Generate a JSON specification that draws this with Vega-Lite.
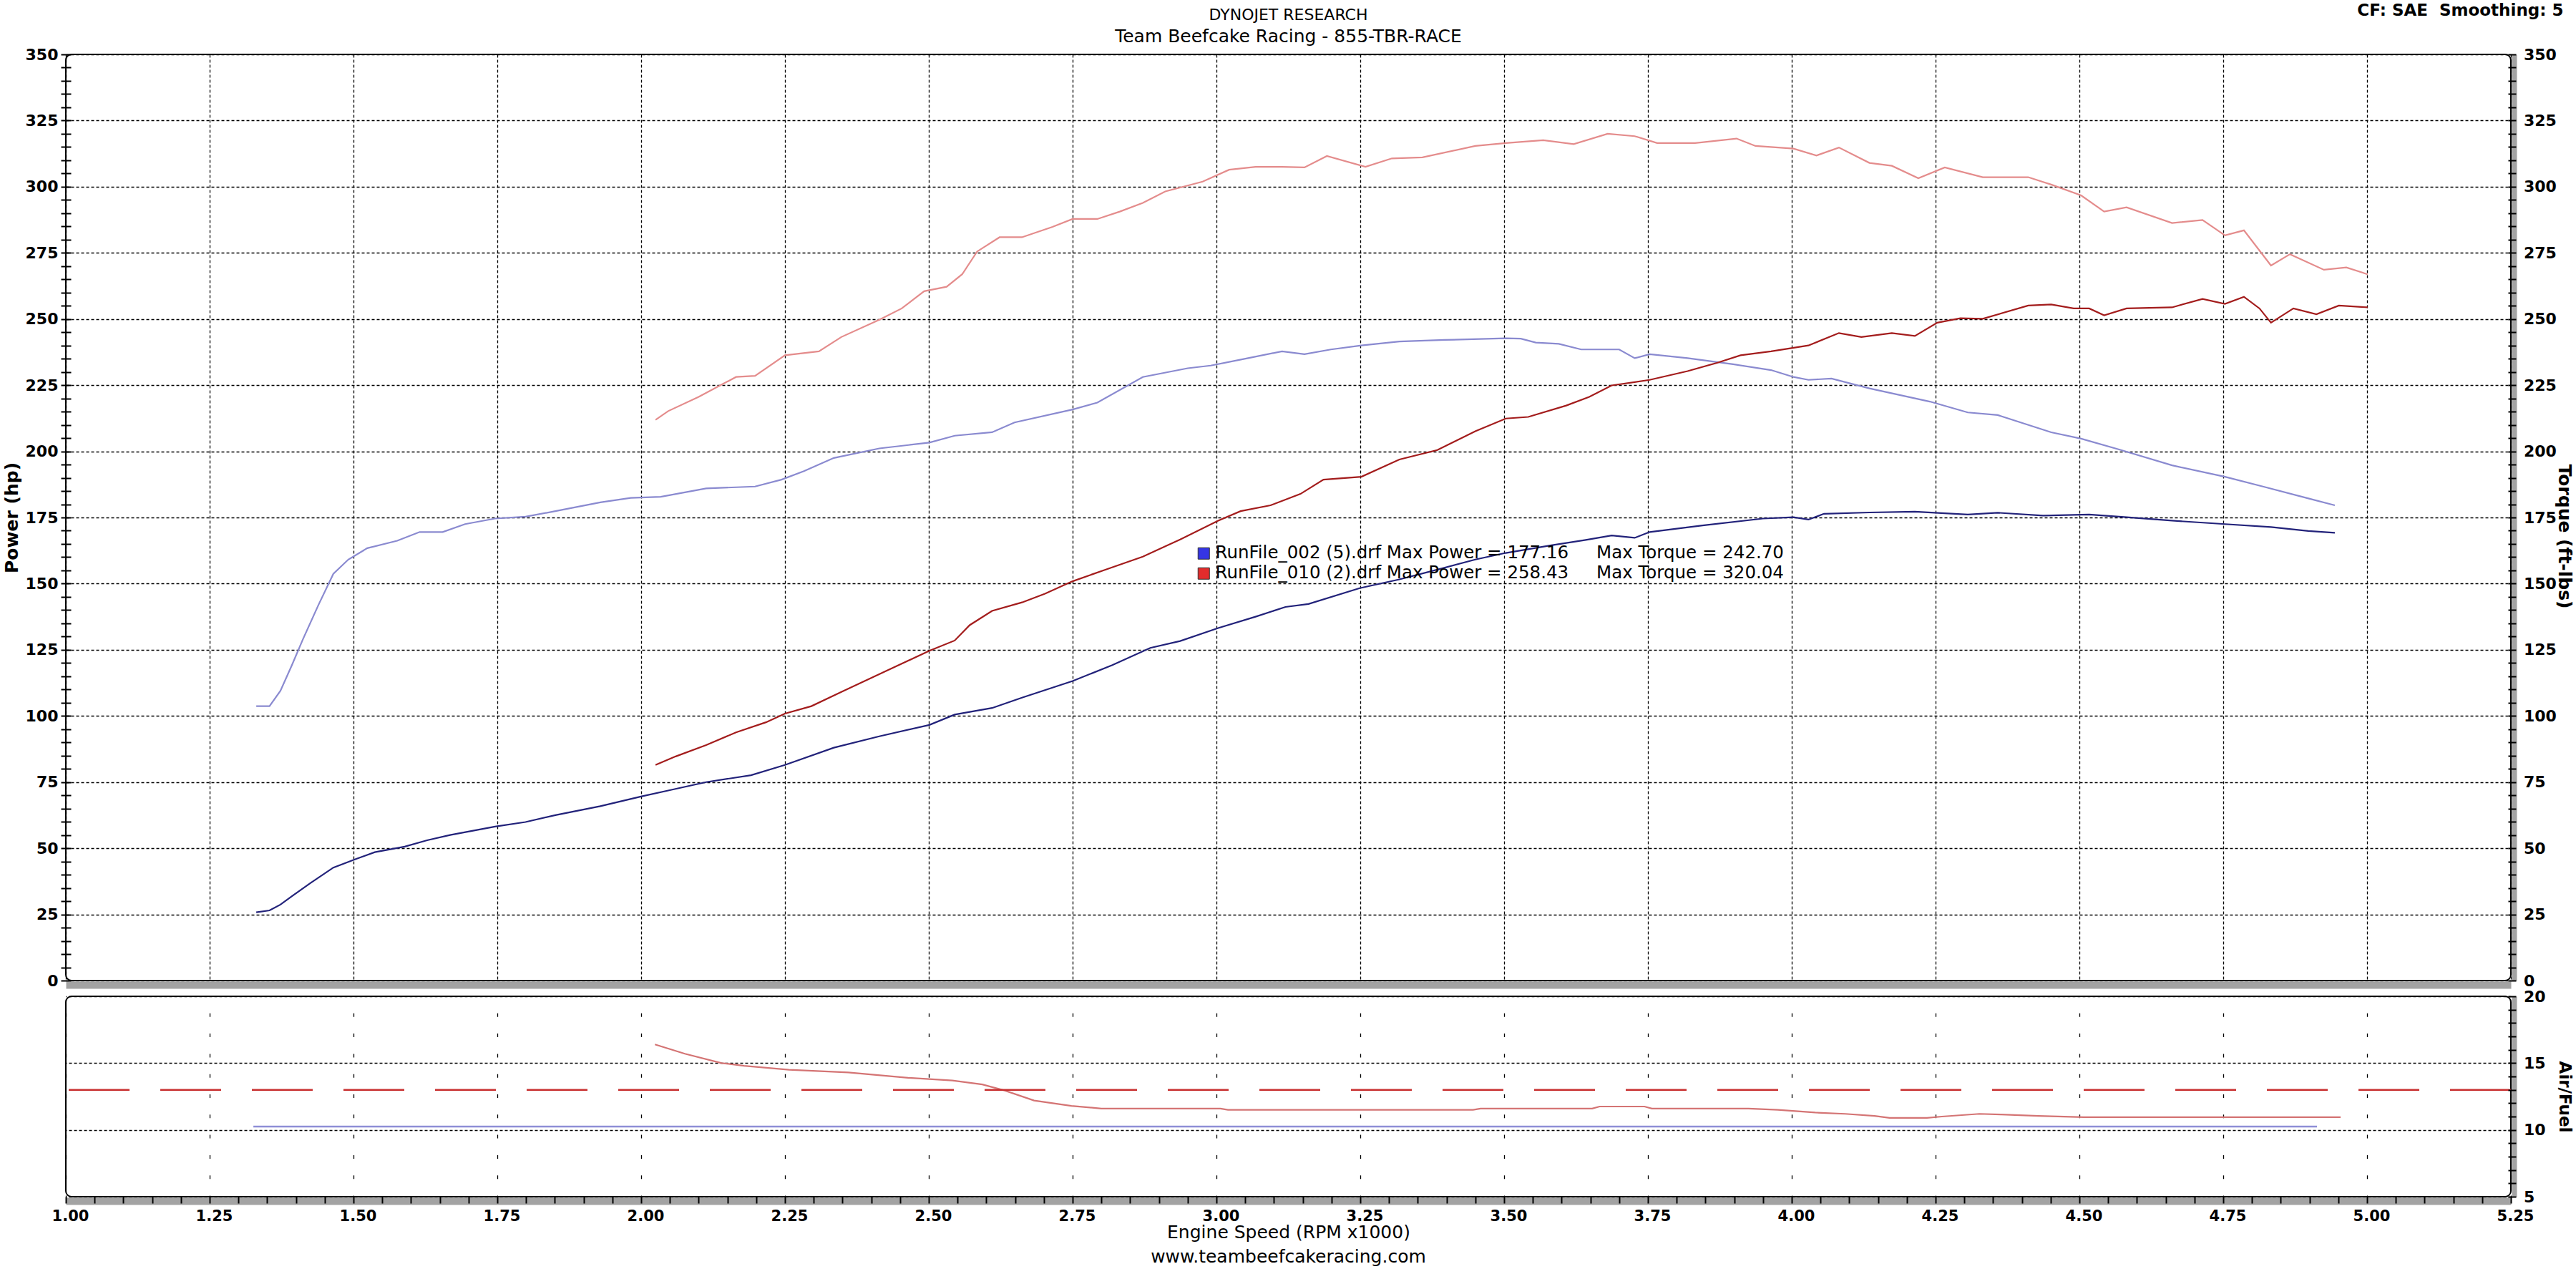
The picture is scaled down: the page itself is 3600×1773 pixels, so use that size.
{
  "$schema": "https://vega.github.io/schema/vega-lite/v6.json",
  "background": "white",
  "padding": {"left": 3, "top": 4, "right": 4, "bottom": 4},
  "title": {"text": "CF: SAE\u00a0 Smoothing: 5", "anchor": "end", "frame": "bounds", "font": "DejaVu Sans", "fontSize": 23, "fontWeight": "bold", "color": "black", "offset": 0, "dy": 18, "dx": -14},
  "bounds": "flush",
  "spacing": 22,
  "resolve": {"scale": {"color": "independent"}, "legend": {"color": "independent"}},
  "config": {
    "view": {"stroke": "black", "strokeWidth": 2, "cornerRadius": 8},
    "axis": {"labelFont": "DejaVu Sans", "labelFontWeight": "bold", "labelFontSize": 22, "labelColor": "black", "labelFlush": false, "titleFont": "DejaVu Sans", "titleColor": "black", "titleFontWeight": "bold", "titleFontSize": 25, "gridColor": "black", "gridOpacity": 1, "gridWidth": 1.3, "gridDash": [4, 3], "tickColor": "black", "tickWidth": 2, "domain": false, "ticks": false, "tickSize": 0},
    "line": {"strokeWidth": 2.2}
  },
  "datasets": {
    "dyno": [
      {"run":"002","m":"P","rpm":1.331,"v":25.8},{"run":"002","m":"P","rpm":1.354,"v":26.5},{"run":"002","m":"P","rpm":1.373,"v":28.7},{"run":"002","m":"P","rpm":1.393,"v":31.9},{"run":"002","m":"P","rpm":1.425,"v":36.8},{"run":"002","m":"P","rpm":1.465,"v":42.7},{"run":"002","m":"P","rpm":1.504,"v":45.9},{"run":"002","m":"P","rpm":1.537,"v":48.5},{"run":"002","m":"P","rpm":1.589,"v":50.6},{"run":"002","m":"P","rpm":1.628,"v":53.0},{"run":"002","m":"P","rpm":1.668,"v":55.0},{"run":"002","m":"P","rpm":1.746,"v":58.2},{"run":"002","m":"P","rpm":1.799,"v":59.9},{"run":"002","m":"P","rpm":1.851,"v":62.5},{"run":"002","m":"P","rpm":1.929,"v":65.9},{"run":"002","m":"P","rpm":2.001,"v":69.6},{"run":"002","m":"P","rpm":2.047,"v":71.8},{"run":"002","m":"P","rpm":2.113,"v":75.0},{"run":"002","m":"P","rpm":2.191,"v":77.6},{"run":"002","m":"P","rpm":2.250,"v":81.5},{"run":"002","m":"P","rpm":2.335,"v":88.0},{"run":"002","m":"P","rpm":2.414,"v":92.3},{"run":"002","m":"P","rpm":2.501,"v":96.6},{"run":"002","m":"P","rpm":2.545,"v":100.5},{"run":"002","m":"P","rpm":2.610,"v":103.0},{"run":"002","m":"P","rpm":2.662,"v":106.9},{"run":"002","m":"P","rpm":2.750,"v":113.2},{"run":"002","m":"P","rpm":2.819,"v":119.2},{"run":"002","m":"P","rpm":2.885,"v":125.7},{"run":"002","m":"P","rpm":2.937,"v":128.3},{"run":"002","m":"P","rpm":3.003,"v":133.2},{"run":"002","m":"P","rpm":3.068,"v":137.5},{"run":"002","m":"P","rpm":3.120,"v":141.2},{"run":"002","m":"P","rpm":3.160,"v":142.3},{"run":"002","m":"P","rpm":3.249,"v":148.3},{"run":"002","m":"P","rpm":3.318,"v":151.6},{"run":"002","m":"P","rpm":3.384,"v":155.3},{"run":"002","m":"P","rpm":3.450,"v":159.1},{"run":"002","m":"P","rpm":3.503,"v":161.6},{"run":"002","m":"P","rpm":3.582,"v":164.5},{"run":"002","m":"P","rpm":3.642,"v":166.5},{"run":"002","m":"P","rpm":3.687,"v":168.2},{"run":"002","m":"P","rpm":3.727,"v":167.3},{"run":"002","m":"P","rpm":3.753,"v":169.5},{"run":"002","m":"P","rpm":3.845,"v":172.0},{"run":"002","m":"P","rpm":3.950,"v":174.6},{"run":"002","m":"P","rpm":4.003,"v":175.1},{"run":"002","m":"P","rpm":4.029,"v":174.2},{"run":"002","m":"P","rpm":4.056,"v":176.4},{"run":"002","m":"P","rpm":4.135,"v":176.9},{"run":"002","m":"P","rpm":4.214,"v":177.2},{"run":"002","m":"P","rpm":4.306,"v":176.1},{"run":"002","m":"P","rpm":4.358,"v":176.8},{"run":"002","m":"P","rpm":4.437,"v":175.7},{"run":"002","m":"P","rpm":4.517,"v":176.1},{"run":"002","m":"P","rpm":4.582,"v":175.1},{"run":"002","m":"P","rpm":4.661,"v":173.8},{"run":"002","m":"P","rpm":4.753,"v":172.5},{"run":"002","m":"P","rpm":4.833,"v":171.4},{"run":"002","m":"P","rpm":4.898,"v":169.9},{"run":"002","m":"P","rpm":4.944,"v":169.2},

      {"run":"002","m":"T","rpm":1.331,"v":103.7},{"run":"002","m":"T","rpm":1.354,"v":103.7},{"run":"002","m":"T","rpm":1.373,"v":109.5},{"run":"002","m":"T","rpm":1.393,"v":119.2},{"run":"002","m":"T","rpm":1.412,"v":128.9},{"run":"002","m":"T","rpm":1.439,"v":141.9},{"run":"002","m":"T","rpm":1.465,"v":153.7},{"run":"002","m":"T","rpm":1.491,"v":159.1},{"run":"002","m":"T","rpm":1.524,"v":163.4},{"run":"002","m":"T","rpm":1.576,"v":166.2},{"run":"002","m":"T","rpm":1.615,"v":169.5},{"run":"002","m":"T","rpm":1.655,"v":169.5},{"run":"002","m":"T","rpm":1.694,"v":172.5},{"run":"002","m":"T","rpm":1.746,"v":174.6},{"run":"002","m":"T","rpm":1.799,"v":175.3},{"run":"002","m":"T","rpm":1.851,"v":177.4},{"run":"002","m":"T","rpm":1.929,"v":180.7},{"run":"002","m":"T","rpm":1.982,"v":182.4},{"run":"002","m":"T","rpm":2.034,"v":182.8},{"run":"002","m":"T","rpm":2.113,"v":186.0},{"run":"002","m":"T","rpm":2.198,"v":186.7},{"run":"002","m":"T","rpm":2.244,"v":189.3},{"run":"002","m":"T","rpm":2.283,"v":192.5},{"run":"002","m":"T","rpm":2.335,"v":197.5},{"run":"002","m":"T","rpm":2.414,"v":201.1},{"run":"002","m":"T","rpm":2.501,"v":203.3},{"run":"002","m":"T","rpm":2.545,"v":205.9},{"run":"002","m":"T","rpm":2.610,"v":207.2},{"run":"002","m":"T","rpm":2.649,"v":210.9},{"run":"002","m":"T","rpm":2.750,"v":215.8},{"run":"002","m":"T","rpm":2.793,"v":218.4},{"run":"002","m":"T","rpm":2.872,"v":228.1},{"run":"002","m":"T","rpm":2.950,"v":231.4},{"run":"002","m":"T","rpm":2.990,"v":232.4},{"run":"002","m":"T","rpm":3.055,"v":235.2},{"run":"002","m":"T","rpm":3.114,"v":237.8},{"run":"002","m":"T","rpm":3.153,"v":236.7},{"run":"002","m":"T","rpm":3.199,"v":238.5},{"run":"002","m":"T","rpm":3.252,"v":240.0},{"run":"002","m":"T","rpm":3.318,"v":241.5},{"run":"002","m":"T","rpm":3.397,"v":242.1},{"run":"002","m":"T","rpm":3.503,"v":242.7},{"run":"002","m":"T","rpm":3.529,"v":242.6},{"run":"002","m":"T","rpm":3.555,"v":241.1},{"run":"002","m":"T","rpm":3.595,"v":240.6},{"run":"002","m":"T","rpm":3.634,"v":238.5},{"run":"002","m":"T","rpm":3.700,"v":238.5},{"run":"002","m":"T","rpm":3.727,"v":235.2},{"run":"002","m":"T","rpm":3.753,"v":236.7},{"run":"002","m":"T","rpm":3.819,"v":235.2},{"run":"002","m":"T","rpm":3.898,"v":232.9},{"run":"002","m":"T","rpm":3.964,"v":230.7},{"run":"002","m":"T","rpm":4.003,"v":228.1},{"run":"002","m":"T","rpm":4.029,"v":227.0},{"run":"002","m":"T","rpm":4.069,"v":227.5},{"run":"002","m":"T","rpm":4.135,"v":223.8},{"run":"002","m":"T","rpm":4.240,"v":218.8},{"run":"002","m":"T","rpm":4.306,"v":214.7},{"run":"002","m":"T","rpm":4.358,"v":213.7},{"run":"002","m":"T","rpm":4.451,"v":207.2},{"run":"002","m":"T","rpm":4.503,"v":204.8},{"run":"002","m":"T","rpm":4.569,"v":200.7},{"run":"002","m":"T","rpm":4.661,"v":194.7},{"run":"002","m":"T","rpm":4.753,"v":190.4},{"run":"002","m":"T","rpm":4.819,"v":186.7},{"run":"002","m":"T","rpm":4.898,"v":182.2},{"run":"002","m":"T","rpm":4.944,"v":179.6},

      {"run":"010","m":"P","rpm":2.025,"v":81.5},{"run":"010","m":"P","rpm":2.060,"v":84.7},{"run":"010","m":"P","rpm":2.113,"v":89.0},{"run":"010","m":"P","rpm":2.165,"v":93.8},{"run":"010","m":"P","rpm":2.217,"v":97.6},{"run":"010","m":"P","rpm":2.250,"v":100.9},{"run":"010","m":"P","rpm":2.296,"v":103.7},{"run":"010","m":"P","rpm":2.348,"v":109.1},{"run":"010","m":"P","rpm":2.427,"v":117.1},{"run":"010","m":"P","rpm":2.501,"v":124.6},{"run":"010","m":"P","rpm":2.545,"v":128.5},{"run":"010","m":"P","rpm":2.571,"v":134.3},{"run":"010","m":"P","rpm":2.610,"v":139.7},{"run":"010","m":"P","rpm":2.662,"v":142.9},{"run":"010","m":"P","rpm":2.702,"v":146.2},{"run":"010","m":"P","rpm":2.750,"v":150.9},{"run":"010","m":"P","rpm":2.806,"v":155.2},{"run":"010","m":"P","rpm":2.872,"v":160.2},{"run":"010","m":"P","rpm":2.937,"v":166.7},{"run":"010","m":"P","rpm":3.003,"v":173.8},{"run":"010","m":"P","rpm":3.042,"v":177.4},{"run":"010","m":"P","rpm":3.094,"v":179.6},{"run":"010","m":"P","rpm":3.146,"v":183.9},{"run":"010","m":"P","rpm":3.186,"v":189.3},{"run":"010","m":"P","rpm":3.252,"v":190.4},{"run":"010","m":"P","rpm":3.318,"v":196.9},{"run":"010","m":"P","rpm":3.384,"v":200.5},{"run":"010","m":"P","rpm":3.450,"v":207.6},{"run":"010","m":"P","rpm":3.503,"v":212.4},{"run":"010","m":"P","rpm":3.542,"v":213.0},{"run":"010","m":"P","rpm":3.608,"v":217.3},{"run":"010","m":"P","rpm":3.648,"v":220.6},{"run":"010","m":"P","rpm":3.687,"v":224.9},{"run":"010","m":"P","rpm":3.753,"v":227.0},{"run":"010","m":"P","rpm":3.819,"v":230.3},{"run":"010","m":"P","rpm":3.871,"v":233.5},{"run":"010","m":"P","rpm":3.911,"v":236.3},{"run":"010","m":"P","rpm":3.964,"v":237.8},{"run":"010","m":"P","rpm":4.029,"v":240.0},{"run":"010","m":"P","rpm":4.082,"v":244.7},{"run":"010","m":"P","rpm":4.121,"v":243.2},{"run":"010","m":"P","rpm":4.174,"v":244.7},{"run":"010","m":"P","rpm":4.214,"v":243.6},{"run":"010","m":"P","rpm":4.253,"v":248.6},{"run":"010","m":"P","rpm":4.293,"v":250.3},{"run":"010","m":"P","rpm":4.332,"v":250.1},{"run":"010","m":"P","rpm":4.411,"v":255.1},{"run":"010","m":"P","rpm":4.451,"v":255.5},{"run":"010","m":"P","rpm":4.490,"v":254.0},{"run":"010","m":"P","rpm":4.517,"v":254.0},{"run":"010","m":"P","rpm":4.543,"v":251.4},{"run":"010","m":"P","rpm":4.582,"v":254.0},{"run":"010","m":"P","rpm":4.661,"v":254.4},{"run":"010","m":"P","rpm":4.714,"v":257.6},{"run":"010","m":"P","rpm":4.753,"v":255.7},{"run":"010","m":"P","rpm":4.786,"v":258.4},{"run":"010","m":"P","rpm":4.813,"v":254.0},{"run":"010","m":"P","rpm":4.833,"v":248.6},{"run":"010","m":"P","rpm":4.872,"v":254.0},{"run":"010","m":"P","rpm":4.912,"v":251.8},{"run":"010","m":"P","rpm":4.951,"v":255.1},{"run":"010","m":"P","rpm":5.001,"v":254.4},

      {"run":"010","m":"T","rpm":2.025,"v":211.9},{"run":"010","m":"T","rpm":2.047,"v":215.2},{"run":"010","m":"T","rpm":2.100,"v":220.6},{"run":"010","m":"T","rpm":2.165,"v":228.1},{"run":"010","m":"T","rpm":2.198,"v":228.5},{"run":"010","m":"T","rpm":2.250,"v":236.3},{"run":"010","m":"T","rpm":2.309,"v":237.8},{"run":"010","m":"T","rpm":2.348,"v":243.2},{"run":"010","m":"T","rpm":2.414,"v":249.7},{"run":"010","m":"T","rpm":2.453,"v":254.0},{"run":"010","m":"T","rpm":2.492,"v":260.5},{"run":"010","m":"T","rpm":2.531,"v":262.2},{"run":"010","m":"T","rpm":2.558,"v":266.9},{"run":"010","m":"T","rpm":2.584,"v":275.5},{"run":"010","m":"T","rpm":2.623,"v":280.9},{"run":"010","m":"T","rpm":2.662,"v":280.9},{"run":"010","m":"T","rpm":2.715,"v":284.8},{"run":"010","m":"T","rpm":2.750,"v":287.8},{"run":"010","m":"T","rpm":2.793,"v":287.8},{"run":"010","m":"T","rpm":2.832,"v":290.6},{"run":"010","m":"T","rpm":2.872,"v":293.9},{"run":"010","m":"T","rpm":2.911,"v":298.2},{"run":"010","m":"T","rpm":2.976,"v":301.9},{"run":"010","m":"T","rpm":3.022,"v":306.4},{"run":"010","m":"T","rpm":3.068,"v":307.5},{"run":"010","m":"T","rpm":3.114,"v":307.5},{"run":"010","m":"T","rpm":3.153,"v":307.3},{"run":"010","m":"T","rpm":3.192,"v":311.6},{"run":"010","m":"T","rpm":3.259,"v":307.5},{"run":"010","m":"T","rpm":3.305,"v":310.7},{"run":"010","m":"T","rpm":3.358,"v":311.1},{"run":"010","m":"T","rpm":3.450,"v":315.4},{"run":"010","m":"T","rpm":3.503,"v":316.5},{"run":"010","m":"T","rpm":3.568,"v":317.6},{"run":"010","m":"T","rpm":3.621,"v":316.1},{"run":"010","m":"T","rpm":3.680,"v":320.0},{"run":"010","m":"T","rpm":3.727,"v":319.1},{"run":"010","m":"T","rpm":3.766,"v":316.5},{"run":"010","m":"T","rpm":3.832,"v":316.5},{"run":"010","m":"T","rpm":3.904,"v":318.2},{"run":"010","m":"T","rpm":3.937,"v":315.4},{"run":"010","m":"T","rpm":4.003,"v":314.4},{"run":"010","m":"T","rpm":4.043,"v":311.8},{"run":"010","m":"T","rpm":4.082,"v":314.8},{"run":"010","m":"T","rpm":4.135,"v":309.0},{"run":"010","m":"T","rpm":4.174,"v":307.9},{"run":"010","m":"T","rpm":4.220,"v":303.2},{"run":"010","m":"T","rpm":4.266,"v":307.3},{"run":"010","m":"T","rpm":4.332,"v":303.6},{"run":"010","m":"T","rpm":4.411,"v":303.6},{"run":"010","m":"T","rpm":4.451,"v":300.8},{"run":"010","m":"T","rpm":4.503,"v":296.7},{"run":"010","m":"T","rpm":4.543,"v":290.6},{"run":"010","m":"T","rpm":4.582,"v":292.2},{"run":"010","m":"T","rpm":4.661,"v":286.3},{"run":"010","m":"T","rpm":4.714,"v":287.4},{"run":"010","m":"T","rpm":4.753,"v":281.6},{"run":"010","m":"T","rpm":4.786,"v":283.5},{"run":"010","m":"T","rpm":4.833,"v":270.2},{"run":"010","m":"T","rpm":4.866,"v":274.5},{"run":"010","m":"T","rpm":4.925,"v":268.6},{"run":"010","m":"T","rpm":4.964,"v":269.5},{"run":"010","m":"T","rpm":5.001,"v":266.9},

      {"run":"010","m":"A","rpm":2.024,"v":16.4},{"run":"010","m":"A","rpm":2.076,"v":15.7},{"run":"010","m":"A","rpm":2.140,"v":15.0},{"run":"010","m":"A","rpm":2.179,"v":14.8},{"run":"010","m":"A","rpm":2.257,"v":14.5},{"run":"010","m":"A","rpm":2.360,"v":14.3},{"run":"010","m":"A","rpm":2.464,"v":13.9},{"run":"010","m":"A","rpm":2.541,"v":13.7},{"run":"010","m":"A","rpm":2.593,"v":13.4},{"run":"010","m":"A","rpm":2.632,"v":12.95},{"run":"010","m":"A","rpm":2.683,"v":12.2},{"run":"010","m":"A","rpm":2.748,"v":11.8},{"run":"010","m":"A","rpm":2.800,"v":11.6},{"run":"010","m":"A","rpm":3.007,"v":11.6},{"run":"010","m":"A","rpm":3.020,"v":11.5},{"run":"010","m":"A","rpm":3.446,"v":11.5},{"run":"010","m":"A","rpm":3.459,"v":11.6},{"run":"010","m":"A","rpm":3.653,"v":11.6},{"run":"010","m":"A","rpm":3.666,"v":11.75},{"run":"010","m":"A","rpm":3.744,"v":11.75},{"run":"010","m":"A","rpm":3.757,"v":11.6},{"run":"010","m":"A","rpm":3.925,"v":11.6},{"run":"010","m":"A","rpm":3.976,"v":11.5},{"run":"010","m":"A","rpm":4.041,"v":11.3},{"run":"010","m":"A","rpm":4.093,"v":11.2},{"run":"010","m":"A","rpm":4.144,"v":11.05},{"run":"010","m":"A","rpm":4.170,"v":10.9},{"run":"010","m":"A","rpm":4.235,"v":10.9},{"run":"010","m":"A","rpm":4.261,"v":11.0},{"run":"010","m":"A","rpm":4.326,"v":11.2},{"run":"010","m":"A","rpm":4.364,"v":11.15},{"run":"010","m":"A","rpm":4.429,"v":11.05},{"run":"010","m":"A","rpm":4.507,"v":10.95},{"run":"010","m":"A","rpm":4.954,"v":10.95},

      {"run":"002","m":"A","rpm":1.326,"v":10.25},{"run":"002","m":"A","rpm":2.0,"v":10.25},{"run":"002","m":"A","rpm":2.5,"v":10.25},{"run":"002","m":"A","rpm":3.0,"v":10.25},{"run":"002","m":"A","rpm":3.5,"v":10.25},{"run":"002","m":"A","rpm":4.0,"v":10.25},{"run":"002","m":"A","rpm":4.5,"v":10.25},{"run":"002","m":"A","rpm":4.913,"v":10.25}
    ],
    "target": [{"afr": 13}]
  },
  "vconcat": [
    {
      "width": 3417,
      "height": 1294,
      "title": {"text": "DYNOJET RESEARCH", "subtitle": "Team Beefcake Racing - 855-TBR-RACE", "anchor": "middle", "frame": "group", "font": "DejaVu Sans", "fontSize": 22, "fontWeight": "normal", "color": "black", "subtitleFont": "DejaVu Sans", "subtitleFontSize": 25, "subtitleFontWeight": "normal", "subtitleColor": "black", "subtitlePadding": 6, "offset": 0},
      "resolve": {"axis": {"x": "independent", "y": "independent"}},
      "layer": [
        {
          "data": {"name": "dyno"},
          "transform": [{"filter": "datum.run == '002' && datum.m == 'P'"}],
          "mark": {"type": "line", "color": "#22227a"},
          "encoding": {
            "x": {"field": "rpm", "type": "quantitative", "scale": {"domain": [1, 5.25], "nice": false, "zero": false},
                  "axis": {"orient": "bottom", "values": [1,1.25,1.5,1.75,2,2.25,2.5,2.75,3,3.25,3.5,3.75,4,4.25,4.5,4.75,5,5.25], "labels": false, "ticks": false, "domain": true, "domainColor": "#a3a3a3", "domainWidth": 10, "offset": 6, "grid": true, "title": null}},
            "y": {"field": "v", "type": "quantitative", "scale": {"domain": [0, 350], "nice": false},
                  "axis": {"orient": "left", "values": [0,25,50,75,100,125,150,175,200,225,250,275,300,325,350], "format": "d", "title": "Power (hp)", "grid": true, "labelPadding": 11, "titlePadding": 6}}
          }
        },
        {
          "data": {"name": "dyno"},
          "transform": [{"filter": "datum.run == '002' && datum.m == 'T'"}],
          "mark": {"type": "line", "color": "#8a8ad0"},
          "encoding": {
            "x": {"field": "rpm", "type": "quantitative", "axis": null},
            "y": {"field": "v", "type": "quantitative",
                  "axis": {"orient": "left", "values": [0,5,10,15,20,25,30,35,40,45,50,55,60,65,70,75,80,85,90,95,100,105,110,115,120,125,130,135,140,145,150,155,160,165,170,175,180,185,190,195,200,205,210,215,220,225,230,235,240,245,250,255,260,265,270,275,280,285,290,295,300,305,310,315,320,325,330,335,340,345,350], "labels": false, "ticks": true, "tickSize": 14, "offset": -7, "grid": false, "title": null, "zindex": 1}}
          }
        },
        {
          "data": {"name": "dyno"},
          "transform": [{"filter": "datum.run == '010' && datum.m == 'P'"}],
          "mark": {"type": "line", "color": "#a31c1c"},
          "encoding": {
            "x": {"field": "rpm", "type": "quantitative", "axis": null},
            "y": {"field": "v", "type": "quantitative",
                  "axis": {"orient": "right", "values": [0,25,50,75,100,125,150,175,200,225,250,275,300,325,350], "format": "d", "title": "Torque (ft-lbs)", "titleFontSize": 25, "titleY": 673, "grid": false, "domain": true, "domainColor": "#a3a3a3", "domainWidth": 7, "offset": 4.5, "labelPadding": 13, "titlePadding": -2}}
          }
        },
        {
          "data": {"name": "dyno"},
          "transform": [{"filter": "datum.run == '010' && datum.m == 'T'"}],
          "mark": {"type": "line", "color": "#e48c8c"},
          "encoding": {
            "x": {"field": "rpm", "type": "quantitative", "axis": null},
            "y": {"field": "v", "type": "quantitative",
                  "axis": {"orient": "right", "values": [0,5,10,15,20,25,30,35,40,45,50,55,60,65,70,75,80,85,90,95,100,105,110,115,120,125,130,135,140,145,150,155,160,165,170,175,180,185,190,195,200,205,210,215,220,225,230,235,240,245,250,255,260,265,270,275,280,285,290,295,300,305,310,315,320,325,330,335,340,345,350], "labels": false, "ticks": true, "tickSize": 11, "offset": -4, "grid": false, "title": null, "zindex": 1}}
          }
        },
        {
          "data": {"name": "dyno"},
          "transform": [{"filter": "datum.m == 'P'"}],
          "mark": {"type": "square", "opacity": 0, "size": 4},
          "encoding": {
            "x": {"field": "rpm", "type": "quantitative", "axis": null},
            "y": {"field": "v", "type": "quantitative", "axis": null},
            "color": {"field": "run", "type": "nominal", "scale": {"domain": ["002", "010"], "range": ["#3535e4", "#e22c2c"]},
                      "legend": {"orient": "none", "legendX": 1578, "legendY": 685, "title": null, "padding": 0, "symbolType": "square", "symbolSize": 256, "symbolOpacity": 1, "symbolStrokeColor": "#303030", "symbolStrokeWidth": 1, "labelFont": "DejaVu Sans", "labelFontSize": 24.5, "labelFontWeight": "normal", "labelColor": "black", "labelOffset": 4, "labelLimit": 3000, "rowPadding": 3,
                                 "labelExpr": "datum.label == '002' ? 'RunFile_002 (5).drf Max Power = 177.16\u00a0\u00a0\u00a0\u00a0\u00a0Max Torque = 242.70' : 'RunFile_010 (2).drf Max Power = 258.43\u00a0\u00a0\u00a0\u00a0\u00a0Max Torque = 320.04'"}}
          }
        }
      ]
    },
    {
      "width": 3417,
      "height": 280,
      "title": {"text": "www.teambeefcakeracing.com", "orient": "bottom", "anchor": "middle", "frame": "group", "font": "DejaVu Sans", "fontSize": 25, "fontWeight": "normal", "color": "black", "offset": 10},
      "resolve": {"axis": {"x": "independent", "y": "independent"}},
      "layer": [
        {
          "data": {"name": "dyno"},
          "transform": [{"filter": "datum.run == '010' && datum.m == 'A'"}],
          "mark": {"type": "line", "color": "#d47474"},
          "encoding": {
            "x": {"field": "rpm", "type": "quantitative", "scale": {"domain": [1, 5.25], "nice": false, "zero": false},
                  "axis": {"orient": "bottom", "values": [1,1.25,1.5,1.75,2,2.25,2.5,2.75,3,3.25,3.5,3.75,4,4.25,4.5,4.75,5,5.25], "format": ".2f", "labelFontSize": 21, "labelOffset": 6, "labelPadding": 10, "title": "Engine Speed (RPM x1000)", "titleFontWeight": "normal", "titleFontSize": 25, "titlePadding": 0, "domain": true, "domainColor": "#a3a3a3", "domainWidth": 10, "offset": 6, "grid": true, "gridDash": [5, 23.3], "gridDashOffset": 5}},
            "y": {"field": "v", "type": "quantitative", "scale": {"domain": [5, 20], "nice": false, "zero": false},
                  "axis": {"orient": "right", "values": [5, 10, 15, 20], "format": "d", "title": "Air/Fuel", "titleFontSize": 23, "grid": true, "domain": true, "domainColor": "#a3a3a3", "domainWidth": 7, "offset": 4.5, "labelPadding": 13, "titlePadding": 14}}
          }
        },
        {
          "data": {"name": "dyno"},
          "transform": [{"filter": "datum.run == '002' && datum.m == 'A'"}],
          "mark": {"type": "line", "color": "#8e8ed6", "strokeWidth": 2.6},
          "encoding": {
            "x": {"field": "rpm", "type": "quantitative",
                  "axis": {"orient": "bottom", "values": [1,1.05,1.1,1.15,1.2,1.25,1.3,1.35,1.4,1.45,1.5,1.55,1.6,1.65,1.7,1.75,1.8,1.85,1.9,1.95,2,2.05,2.1,2.15,2.2,2.25,2.3,2.35,2.4,2.45,2.5,2.55,2.6,2.65,2.7,2.75,2.8,2.85,2.9,2.95,3,3.05,3.1,3.15,3.2,3.25,3.3,3.35,3.4,3.45,3.5,3.55,3.6,3.65,3.7,3.75,3.8,3.85,3.9,3.95,4,4.05,4.1,4.15,4.2,4.25,4.3,4.35,4.4,4.45,4.5,4.55,4.6,4.65,4.7,4.75,4.8,4.85,4.9,4.95,5,5.05,5.1,5.15,5.2,5.25], "labels": false, "ticks": true, "tickSize": 9, "grid": false, "title": null, "zindex": 1}},
            "y": {"field": "v", "type": "quantitative",
                  "axis": {"orient": "right", "values": [5,6,7,8,9,10,11,12,13,14,15,16,17,18,19,20], "labels": false, "ticks": true, "tickSize": 11, "offset": -4, "grid": false, "title": null, "zindex": 1}}
          }
        },
        {
          "data": {"name": "target"},
          "mark": {"type": "rule", "color": "#c83030", "strokeWidth": 2.5, "strokeDash": [85, 43]},
          "encoding": {
            "y": {"field": "afr", "type": "quantitative", "axis": null}
          }
        }
      ]
    }
  ]
}
